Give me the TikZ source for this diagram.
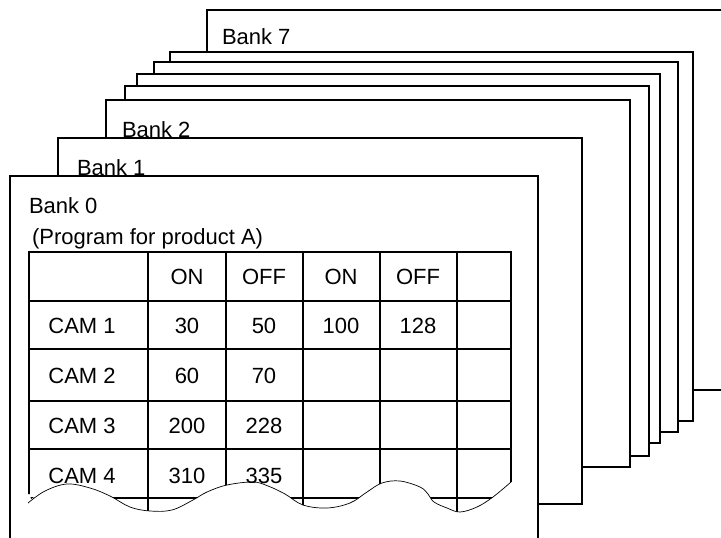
\documentclass[tikz,border=0pt]{standalone}
\usepackage{fontspec}
\setmainfont{Liberation Sans}

\begin{document}
\begin{tikzpicture}[x=1pt, y=-1pt, inner sep=0pt, outer sep=0pt,
  bank/.style={draw=black, fill=white, line width=1.2pt},
  grid/.style={draw=black, line width=1.5pt},
  tear/.style={draw=black, line width=0.7pt},
  every node/.append style={font=\fontsize{22}{26}\selectfont}]
  \useasboundingbox (0,0) rectangle (721,538);
  \clip (0,0) rectangle (721,538);

  % banks, back to front
  \path[bank] (207,10) rectangle (760,390);
  \node[anchor=base west] (bank7) at (222,45) {Bank 7};
  \path[bank] (170,52) rectangle (693,421);
  \path[bank] (154,62) rectangle (678,432);
  \path[bank] (137,74) rectangle (660,443);
  \path[bank] (125,86) rectangle (649,456);
  \path[bank] (106,100) rectangle (630,467);
  \node[anchor=base west] (bank2) at (122,137) {Bank 2};
  \path[bank] (58,138) rectangle (582,504);
  \node[anchor=base west] (bank1) at (77,175) {Bank 1};
  \path[bank] (10,176) rectangle (538,560);
  \node[anchor=base west] (bank0) at (29,213) {Bank 0};
  \node[anchor=base west] (prog) at (32,244) {(Program for product A)};

  % table, torn at the bottom
  \begin{scope}
    \clip (20,240) -- (20,494) -- (30,494)
      -- plot[smooth, tension=0.6] coordinates {(31,499) (45,491) (67,484) (90,488) (110,496) (130,507) (150,511) (172,510) (193,500) (207,492) (227,485) (253,482) (268,486) (285,494) (303,505) (327,508) (350,503) (367,492) (382,483) (400,481) (420,487) (428,494) (434,502) (447,508) (460,512) (477,507) (493,497) (511,482)}
      -- (520,482) -- (520,240) -- cycle;
    \path[grid] (29,520) -- (29,252) -- (511,252) -- (511,520);
    \path[grid] (29,301) -- (511,301);
    \path[grid] (29,349) -- (511,349);
    \path[grid] (29,401) -- (511,401);
    \path[grid] (29,449) -- (511,449);
    \path[grid] (29,498) -- (511,498);
    \path[grid] (148,252) -- (148,520);
    \path[grid] (226,252) -- (226,520);
    \path[grid] (303,252) -- (303,520);
    \path[grid] (380,252) -- (380,520);
    \path[grid] (457,252) -- (457,520);

    \node (on1) at (187,277) {ON};
    \node (off1) at (264,277) {OFF};
    \node (on2) at (341,277) {ON};
    \node (off2) at (418,277) {OFF};

    \node (cam1) at (82,326) {CAM 1};
    \node (cam1on1) at (187,326) {30};
    \node (cam1off1) at (264,326) {50};
    \node (cam1on2) at (341,326) {100};
    \node (cam1off2) at (418,326) {128};

    \node (cam2) at (82,376) {CAM 2};
    \node (cam2on1) at (187,376) {60};
    \node (cam2off1) at (264,376) {70};

    \node (cam3) at (82,426) {CAM 3};
    \node (cam3on1) at (187,426) {200};
    \node (cam3off1) at (264,426) {228};

    \node (cam4) at (82,476) {CAM 4};
    \node (cam4on1) at (187,476) {310};
    \node (cam4off1) at (264,476) {335};
  \end{scope}
  \path[tear] plot[smooth, tension=0.6] coordinates {(28,503) (45,491) (67,484) (90,488) (110,496) (130,507) (150,511) (172,510) (193,500) (207,492) (227,485) (253,482) (268,486) (285,494) (303,505) (327,508) (350,503) (367,492) (382,483) (400,481) (420,487) (428,494) (434,502) (447,508) (460,512) (477,507) (493,497) (511,482)};

\end{tikzpicture}
\end{document}
